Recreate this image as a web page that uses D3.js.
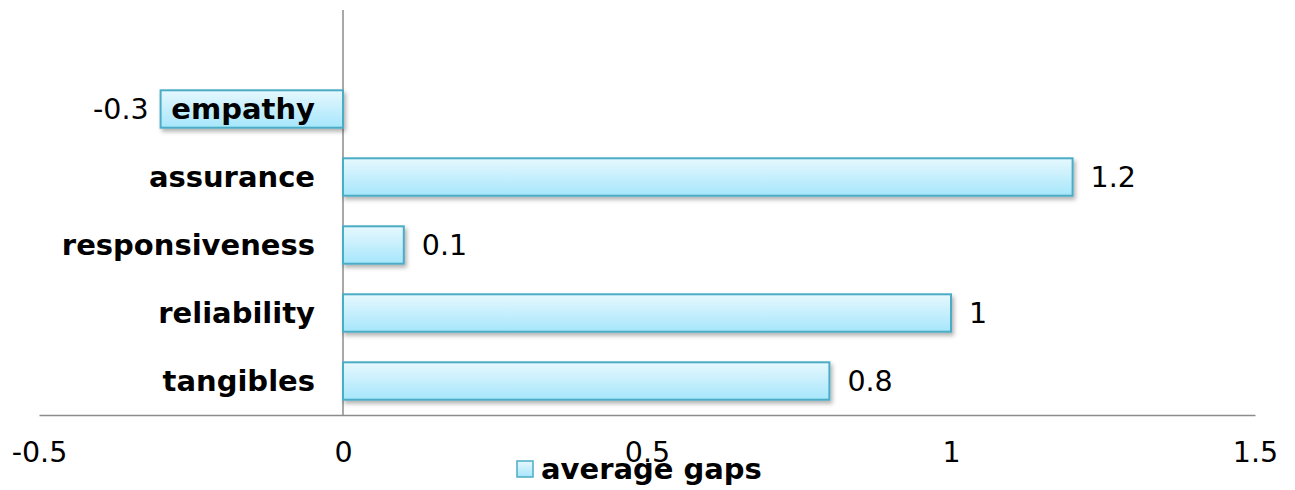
<!DOCTYPE html>
<html>
<head>
<meta charset="utf-8">
<script src="https://cdn.jsdelivr.net/npm/d3@7"></script>
<style>
  body { margin: 0; background: #fff; }
  text { font-family: "DejaVu Sans", Verdana, sans-serif; }
</style>
</head>
<body>
<div id="bar"></div>
<script>
// Chart data
var categories = ["tangibles", "reliability", "responsiveness", "assurance", "empathy"];
var gapValues = [0.8, 1, 0.1, 1.2, -0.3];
var valueLabels = ["0.8", "1", "0.1", "1.2", "-0.3"];
var xTicks = [-0.5, 0, 0.5, 1, 1.5];
var xTickLabels = ["-0.5", "0", "0.5", "1", "1.5"];
var seriesName = "average gaps";

// Define SVG area dimensions
var svgWidth = 1295;
var svgHeight = 490;

var svg = d3.select("#bar")
  .append("svg")
  .attr("width", svgWidth)
  .attr("height", svgHeight);

// gradient + shadow for the bars
var defs = svg.append("defs");
var grad = defs.append("linearGradient")
  .attr("id", "barFill")
  .attr("x1", "0%").attr("y1", "0%").attr("x2", "0%").attr("y2", "100%");
grad.append("stop").attr("offset", "0%").attr("stop-color", "#e6f8fe");
grad.append("stop").attr("offset", "100%").attr("stop-color", "#a6e6fb");

var shadow = defs.append("filter")
  .attr("id", "shadow")
  .attr("x", "-10%").attr("y", "-20%").attr("width", "130%").attr("height", "160%");
shadow.append("feDropShadow")
  .attr("dx", 2).attr("dy", 3).attr("stdDeviation", 2)
  .attr("flood-color", "#000").attr("flood-opacity", 0.3);

// scales
var xLinearScale = d3.scaleLinear()
  .domain([-0.5, 1.5])
  .range([39, 1255]);

var yBandScale = d3.scaleBand()
  .domain(categories)
  .range([415, 75])
  .paddingInner(0.45)
  .paddingOuter(0.225);

// vertical axis line at zero
svg.append("line")
  .attr("x1", xLinearScale(0)).attr("x2", xLinearScale(0))
  .attr("y1", 10).attr("y2", 415)
  .attr("stroke", "#8c8c8c")
  .attr("stroke-width", 1.5);

// bars
svg.selectAll(".bar")
  .data(categories)
  .enter()
  .append("rect")
  .attr("class", "bar")
  .attr("x", (d, i) => xLinearScale(Math.min(0, gapValues[i])))
  .attr("y", d => yBandScale(d))
  .attr("width", (d, i) => Math.abs(xLinearScale(gapValues[i]) - xLinearScale(0)))
  .attr("height", yBandScale.bandwidth())
  .attr("fill", "url(#barFill)")
  .attr("stroke", "#4bacc6")
  .attr("stroke-width", 2)
  .attr("filter", "url(#shadow)");

// bottom axis
var bottomAxis = d3.axisBottom(xLinearScale)
  .tickValues(xTicks)
  .tickSize(0)
  .tickPadding(27)
  .tickFormat((d, i) => xTickLabels[i]);

var xAxisG = svg.append("g")
  .attr("transform", "translate(0, 415)")
  .call(bottomAxis);
xAxisG.select(".domain")
  .attr("stroke", "#8c8c8c")
  .attr("stroke-width", 1.5);
xAxisG.selectAll("text")
  .style("font-size", "28.5px")
  .attr("fill", "#000")
  .style("font-family", "'DejaVu Sans', Verdana, sans-serif");

// category labels
svg.selectAll(".catLabel")
  .data(categories)
  .enter()
  .append("text")
  .attr("class", "catLabel")
  .attr("x", 315)
  .attr("y", d => yBandScale(d) + yBandScale.bandwidth() / 2)
  .attr("dy", "0.35em")
  .attr("text-anchor", "end")
  .style("font-size", "29px")
  .style("font-weight", "bold")
  .text(d => d);

// value labels
svg.selectAll(".valLabel")
  .data(categories)
  .enter()
  .append("text")
  .attr("class", "valLabel")
  .attr("x", (d, i) => gapValues[i] < 0 ? xLinearScale(gapValues[i]) - 12 : xLinearScale(gapValues[i]) + 18)
  .attr("y", d => yBandScale(d) + yBandScale.bandwidth() / 2)
  .attr("dy", "0.35em")
  .attr("text-anchor", (d, i) => gapValues[i] < 0 ? "end" : "start")
  .style("font-size", "28.5px")
  .text((d, i) => valueLabels[i]);

// legend
var legend = svg.append("g")
  .attr("transform", "translate(517, 461)");
legend.append("rect")
  .attr("width", 16).attr("height", 16)
  .attr("fill", "url(#barFill)")
  .attr("stroke", "#4bacc6")
  .attr("stroke-width", 1.5);
legend.append("text")
  .attr("x", 24)
  .attr("y", 8)
  .attr("dy", "0.35em")
  .style("font-size", "29px")
  .style("font-weight", "bold")
  .text(seriesName);
</script>
</body>
</html>
